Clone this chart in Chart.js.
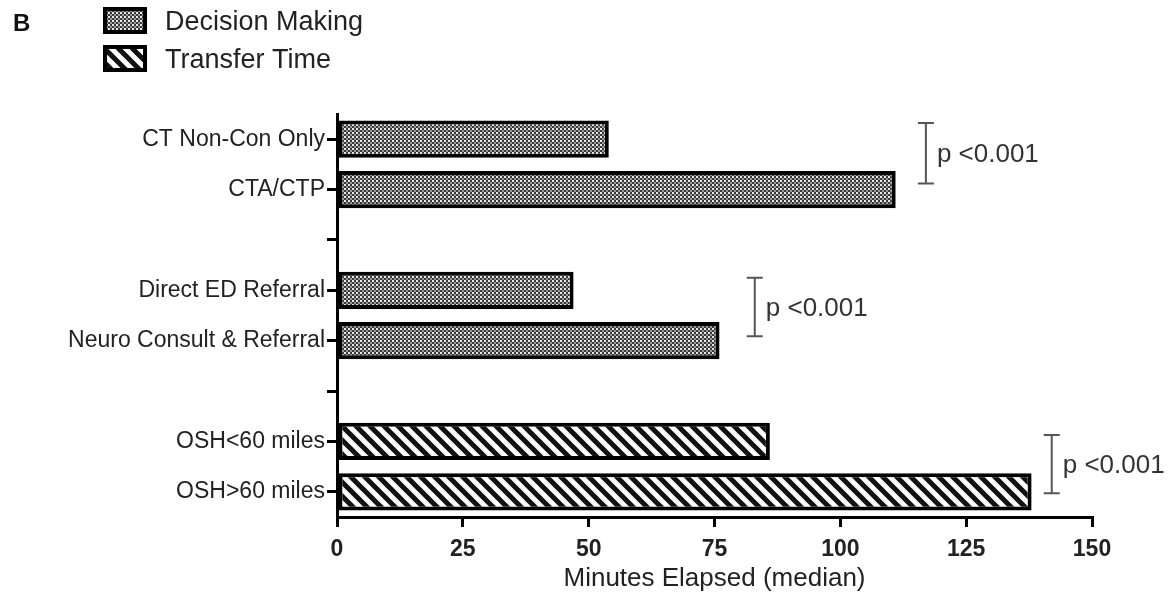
<!DOCTYPE html>
<html>
<head>
<meta charset="utf-8">
<script src="https://cdn.jsdelivr.net/npm/chart.js@4/dist/chart.umd.min.js"></script>
<style>
  html, body { margin: 0; padding: 0; background: #fff; }
  #wrap { width: 1176px; height: 600px; position: relative; }
</style>
</head>
<body>
<div id="wrap"><canvas id="chart" width="1176" height="600"></canvas></div>
<script>
// Categories (empty strings are the spacer rows between groups)
var categories = ['CT Non-Con Only', 'CTA/CTP', '', 'Direct ED Referral', 'Neuro Consult & Referral', '', 'OSH<60 miles', 'OSH>60 miles'];
// Median minutes per series
var decisionMaking = [54, 111, null, 47, 76, null, null, null];
var transferTime = [null, null, null, null, null, null, 86, 138];
// x axis ticks
var xTicks = [0, 25, 50, 75, 100, 125, 150];
// significance brackets: category span and x value
var brackets = [
  { from: -0.32, to: 0.88, x: 117, text: 'p <0.001' },
  { from: 2.75, to: 3.91, x: 83, text: 'p <0.001' },
  { from: 5.87, to: 7.03, x: 142, text: 'p <0.001' }
];

var FONT = '"Liberation Sans", Arial, sans-serif';

// dotted (checkered) fill
function dotPattern() {
  var c = document.createElement('canvas');
  c.width = 4; c.height = 4;
  var g = c.getContext('2d');
  g.fillStyle = '#383838';
  g.fillRect(0, 0, 4, 4);
  g.fillStyle = '#e8e8e8';
  g.fillRect(0, 0, 2, 2);
  g.fillStyle = '#9a9a9a';
  g.fillRect(2, 2, 2, 2);
  return g.createPattern(c, 'repeat');
}

// diagonal "\" stripes
function stripePattern() {
  var s = 14;
  var c = document.createElement('canvas');
  c.width = s; c.height = s;
  var g = c.getContext('2d');
  g.fillStyle = '#fff';
  g.fillRect(0, 0, s, s);
  g.strokeStyle = '#111';
  g.lineWidth = 5;
  g.beginPath();
  g.moveTo(-s, 0); g.lineTo(s, 2 * s);
  g.moveTo(0, 0); g.lineTo(s, s);
  g.moveTo(0, -s); g.lineTo(2 * s, s);
  g.stroke();
  return g.createPattern(c, 'repeat');
}

var dotFill = dotPattern();
var stripeFill = stripePattern();

var extras = {
  id: 'extras',
  afterDraw: function (chart) {
    var ctx = chart.ctx, xs = chart.scales.x, ys = chart.scales.y;
    ctx.save();
    // panel letter
    ctx.fillStyle = '#111';
    ctx.font = 'bold 24px ' + FONT;
    ctx.textBaseline = 'middle';
    ctx.textAlign = 'left';
    ctx.fillText('B', 13, 24);

    // legend
    chart.data.datasets.forEach(function (ds, i) {
      var y = 7 + i * 38;
      ctx.fillStyle = ds.backgroundColor;
      ctx.fillRect(103, y, 44, 27);
      ctx.strokeStyle = '#000';
      ctx.lineWidth = 4;
      ctx.strokeRect(105, y + 2, 40, 23);
      ctx.fillStyle = '#222';
      ctx.font = '27px ' + FONT;
      ctx.fillText(ds.label, 165, y + 16);
    });

    // brackets
    brackets.forEach(function (b) {
      var x = xs.getPixelForValue(b.x);
      var y1 = ys.getPixelForValue(b.from);
      var y2 = ys.getPixelForValue(b.to);
      ctx.strokeStyle = '#555';
      ctx.lineWidth = 2;
      ctx.beginPath();
      ctx.moveTo(x, y1); ctx.lineTo(x, y2);
      ctx.moveTo(x - 8, y1); ctx.lineTo(x + 8, y1);
      ctx.moveTo(x - 8, y2); ctx.lineTo(x + 8, y2);
      ctx.stroke();
      ctx.fillStyle = '#333';
      ctx.font = '26px ' + FONT;
      ctx.textAlign = 'left';
      ctx.textBaseline = 'middle';
      ctx.fillText(b.text, x + 11, (y1 + y2) / 2 + 2);
    });
    ctx.restore();
  }
};

new Chart(document.getElementById('chart'), {
  type: 'bar',
  data: {
    labels: categories,
    datasets: [
      { label: 'Decision Making', data: decisionMaking, backgroundColor: dotFill, borderColor: '#000', borderWidth: 4, borderSkipped: false },
      { label: 'Transfer Time', data: transferTime, backgroundColor: stripeFill, borderColor: '#000', borderWidth: 4, borderSkipped: false }
    ]
  },
  options: {
    indexAxis: 'y',
    responsive: false,
    animation: false,
    events: [],
    barPercentage: 0.74,
    categoryPercentage: 1,
    layout: { padding: { top: 114, right: 84, bottom: 0, left: 0 } },
    plugins: { legend: { display: false }, tooltip: { enabled: false } },
    scales: {
      x: {
        stacked: true,
        min: 0, max: 150,
        afterBuildTicks: function (scale) {
          scale.ticks = xTicks.map(function (v) { return { value: v }; });
        },
        afterFit: function (scale) { scale.height = 83; },
        border: { color: '#000', width: 3 },
        grid: { drawOnChartArea: false, color: '#000', lineWidth: 3, tickLength: 10 },
        ticks: { color: '#222', font: { family: FONT, size: 23, weight: 'bold' }, padding: 9 },
        title: { display: true, text: 'Minutes Elapsed (median)', color: '#222', font: { family: FONT, size: 26 }, padding: { top: 0, bottom: 6 } }
      },
      y: {
        stacked: true,
        afterFit: function (scale) { scale.width = 337; },
        border: { color: '#000', width: 3 },
        grid: { offset: false, drawOnChartArea: false, color: '#000', lineWidth: 3, tickLength: 10 },
        ticks: { color: '#222', font: { family: FONT, size: 23 }, padding: 2, autoSkip: false }
      }
    }
  },
  plugins: [extras]
});
</script>
</body>
</html>
